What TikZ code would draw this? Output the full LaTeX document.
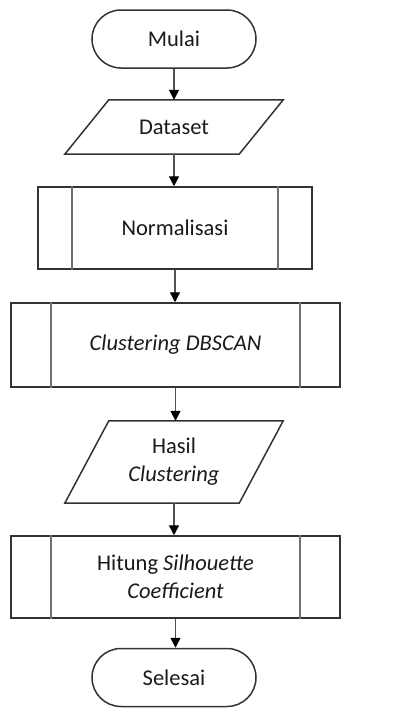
\documentclass[tikz,border=0pt]{standalone}
\usepackage{fontspec}
\setmainfont{Carlito}
\usetikzlibrary{arrows.meta}
\definecolor{edge}{HTML}{333333}
\definecolor{innerl}{HTML}{707070}
\definecolor{shaft}{HTML}{505050}
\definecolor{txt}{HTML}{1A1A1A}
\tikzset{
  base/.style={font=\fontsize{22.5}{28}\selectfont, text=txt, align=center, inner sep=0pt},
  term/.style={base, draw=edge, line width=1.5pt, rounded corners=29pt, minimum width=164pt, minimum height=58pt},
  procbox/.style={base, draw=edge, line width=1.5pt, minimum height=82pt},
  iobox/.style={base, minimum width=218pt},
  ioline/.style={draw=edge, line width=1.5pt, line join=miter},
  innerline/.style={draw=innerl, line width=1.6pt},
  flow/.style={draw=shaft, line width=1.4pt, -{Triangle[color=black,fill=black,width=10pt,length=10pt]}}
}
\begin{document}
\begin{tikzpicture}[x=1pt,y=-1pt]
\useasboundingbox[fill=white] (0,0) rectangle (408,713);
% nodes
\node[term] (mulai) at (174,39) {Mulai};
\node[iobox, minimum height=54pt] (dataset) at (174,127) {Dataset};
\node[procbox, minimum width=274pt] (norm) at (175,228) {Normalisasi};
\node[procbox, minimum width=329pt, minimum height=84pt] (dbscan) at (175.5,345) {\itshape Clustering DBSCAN};
\node[iobox, minimum height=82pt] (hasil) at (174,462) {Hasil\\\itshape Clustering};
\node[procbox, minimum width=329pt] (hitung) at (175.5,577) {Hitung \textit{Silhouette}\\\textit{Coefficient}};
\node[term] (selesai) at (174,677.5) {Selesai};
% parallelograms
\draw[ioline] ([xshift=44pt]dataset.north west) -- (dataset.north east) -- ([xshift=-44pt]dataset.south east) -- (dataset.south west) -- cycle;
\draw[ioline] ([xshift=44pt]hasil.north west) -- (hasil.north east) -- ([xshift=-44pt]hasil.south east) -- (hasil.south west) -- cycle;
% inner lines of predefined processes
\foreach \n/\d in {norm/35pt, dbscan/41pt, hitung/41pt}{
  \draw[innerline] ([xshift=\d]\n.north west) -- ([xshift=\d]\n.south west);
  \draw[innerline] ([xshift=-\d]\n.north east) -- ([xshift=-\d]\n.south east);
}
% connectors
\draw[flow] (mulai.south) -- (mulai.south |- dataset.north);
\draw[flow] (dataset.south) -- (dataset.south |- norm.north);
\draw[flow] (norm.south) -- (norm.south |- dbscan.north);
\draw[flow] (dbscan.south) -- (dbscan.south |- hasil.north);
\draw[flow] (hasil.south) -- (hasil.south |- hitung.north);
\draw[flow] (hitung.south) -- (hitung.south |- selesai.north);
\end{tikzpicture}
\end{document}
